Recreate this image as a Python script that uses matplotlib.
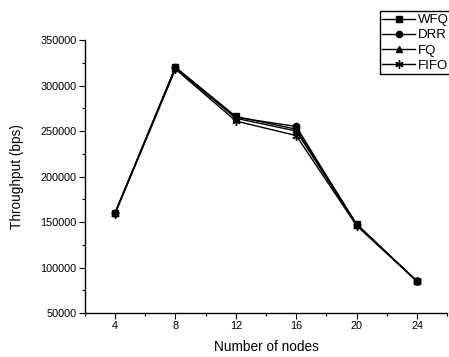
import matplotlib.pyplot as plt
from matplotlib.ticker import MultipleLocator

plt.rcParams['font.family'] = ['Liberation Sans', 'DejaVu Sans']

# number of nodes in the network
nodes = [4, 8, 12, 16, 20, 24]

# throughput (bps) for each queueing discipline
wfq = [160000, 320000, 266000, 252000, 148000, 85000]
drr = [160000, 320000, 265000, 255000, 147000, 85000]
fq = [160000, 319000, 264000, 250000, 147000, 85000]
fifo = [159000, 318000, 261000, 245000, 146000, 85000]

series = [
    ('WFQ', wfq, 's', 4.5),
    ('DRR', drr, 'o', 4.5),
    ('FQ', fq, '^', 5),
    ('FIFO', fifo, (6, 2, 0), 6),
]

fig = plt.figure(figsize=(4.49, 3.57), dpi=100)
ax = fig.add_axes([0.189, 0.123, 0.807, 0.765])

for name, values, marker, size in series:
    ax.plot(nodes, values, color='black', linewidth=1, marker=marker,
            markersize=size, markeredgewidth=1, label=name)

ax.set_xlim(2, 26)
ax.set_ylim(50000, 350000)
ax.set_xticks(nodes)
ax.xaxis.set_minor_locator(MultipleLocator(2))
ax.yaxis.set_major_locator(MultipleLocator(50000))
ax.yaxis.set_minor_locator(MultipleLocator(25000))

ax.spines['top'].set_visible(False)
ax.spines['right'].set_visible(False)
for side in ['left', 'bottom']:
    ax.spines[side].set_linewidth(1)

ax.tick_params(which='major', direction='out', length=4, width=0.8, labelsize=7.8, pad=2)
ax.tick_params(which='minor', direction='out', length=2.5, width=0.8)

ax.set_xlabel('Number of nodes', fontsize=9.8, labelpad=6)
ax.set_ylabel('Throughput (bps)', fontsize=9.8, labelpad=12)

leg = fig.legend(loc='upper left', bbox_to_anchor=(0.846, 0.968), fontsize=9.5,
                 frameon=True, fancybox=False, edgecolor='black', framealpha=1,
                 handlelength=2.5, handletextpad=0.2, labelspacing=0.22,
                 borderpad=0.2, borderaxespad=0)
leg.get_frame().set_linewidth(1)

fig.savefig('out.png', dpi=100)
